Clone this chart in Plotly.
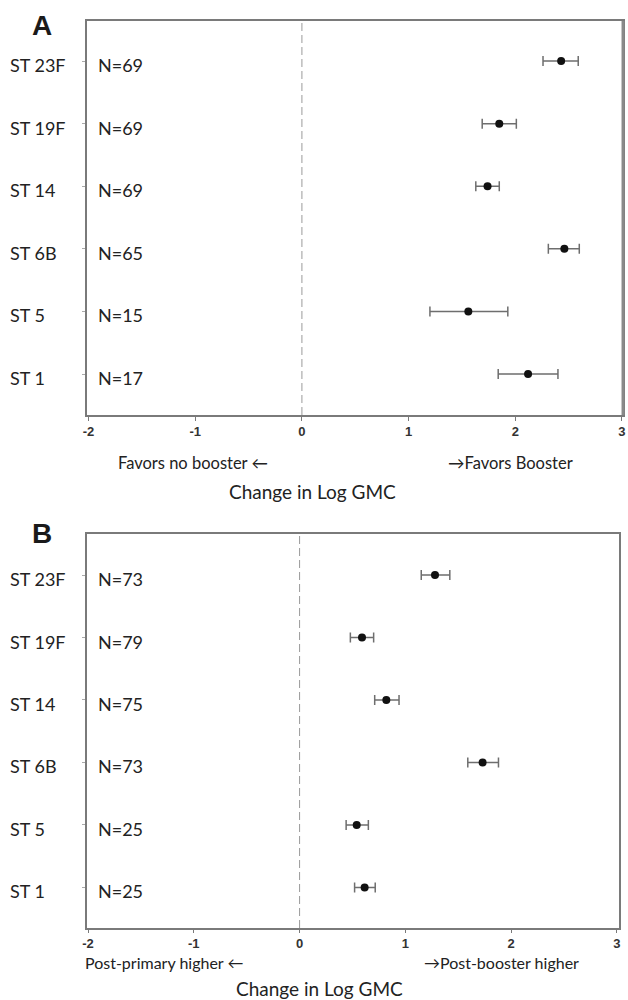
import plotly.graph_objects as go

W, H = 628, 1000

serotypes = ["ST 1", "ST 5", "ST 6B", "ST 14", "ST 19F", "ST 23F"]
x_ticks = [-2, -1, 0, 1, 2, 3]

A_est = [2.12, 1.56, 2.46, 1.74, 1.85, 2.43]
A_lo = [1.84, 1.20, 2.31, 1.63, 1.69, 2.26]
A_hi = [2.40, 1.93, 2.60, 1.85, 2.01, 2.59]
A_n = [17, 15, 65, 69, 69, 69]

B_est = [0.615, 0.54, 1.73, 0.82, 0.59, 1.28]
B_lo = [0.52, 0.44, 1.59, 0.71, 0.48, 1.15]
B_hi = [0.715, 0.65, 1.88, 0.94, 0.70, 1.42]
B_n = [25, 25, 73, 75, 79, 73]

A_left_label, A_right_label = "Favors no booster \u2190", "\u2192Favors Booster"
B_left_label, B_right_label = "Post-primary higher \u2190", "\u2192Post-booster higher"
x_title = "Change in Log GMC"

FONT = "Lato"
AXC = "#7a7a7a"


def px(x):
    return x / W


def py(y):
    return 1 - y / H


fig = go.Figure()
idx = list(range(len(serotypes)))

for est, lo, hi, xa, ya in [(A_est, A_lo, A_hi, "x", "y"), (B_est, B_lo, B_hi, "x2", "y2")]:
    fig.add_trace(go.Scatter(
        x=est, y=idx, xaxis=xa, yaxis=ya, mode="markers",
        marker=dict(color="#111111", size=8),
        error_x=dict(type="data", symmetric=False,
                     array=[h - e for h, e in zip(hi, est)],
                     arrayminus=[e - l for e, l in zip(est, lo)],
                     color="#6e6e6e", thickness=1.5, width=5),
        showlegend=False, hoverinfo="skip"))

xcommon = dict(tickvals=x_ticks, ticktext=[str(t) for t in x_ticks],
               tickfont=dict(family="Liberation Sans", size=13, color="#333", weight="bold"),
               ticklabeloverflow="allow",
               showgrid=False, zeroline=False, showline=True, linecolor=AXC, linewidth=1.5,
               mirror=True, ticks="outside", tickcolor=AXC, ticklen=4, tickwidth=1.2)
ycommon = dict(tickvals=idx, ticktext=["" for _ in idx], showgrid=False, zeroline=False,
               showline=True, linecolor=AXC, linewidth=1.5, mirror=True,
               ticks="outside", tickcolor="#aaaaaa", ticklen=3, tickwidth=1)

fig.update_layout(
    width=W, height=H, margin=dict(l=0, r=0, t=0, b=0),
    paper_bgcolor="white", plot_bgcolor="white",
    xaxis=dict(domain=[px(83), px(626)], range=[-2.015, 3.01], anchor="y", **xcommon),
    yaxis=dict(domain=[py(415), py(21)], range=[-0.655, 5.64], anchor="x", **ycommon),
    xaxis2=dict(domain=[px(83), px(622)], range=[-2.01, 3.02], anchor="y2", **xcommon),
    yaxis2=dict(domain=[py(928), py(534)], range=[-0.65, 5.657], anchor="x2", **ycommon),
)
fig.update_layout(xaxis2_ticklen=3)

for xa, ya in [("x", "y"), ("x2", "y2")]:
    fig.add_shape(type="line", xref=xa, yref=ya + " domain", x0=0, x1=0, y0=0, y1=1,
                  line=dict(color="#9a9a9a", width=1, dash="8px,4px"))

# thicker right border on panel A
fig.add_shape(type="line", xref="paper", yref="paper", x0=px(626), x1=px(626),
              y0=py(415), y1=py(21), line=dict(color="#8a8a8a", width=3))

ann = []
for ns, ya in [(A_n, "y"), (B_n, "y2")]:
    for i, (s, n) in enumerate(zip(serotypes, ns)):
        ann.append(dict(x=px(3), xref="paper", y=i, yref=ya, text=s, showarrow=False,
                        xanchor="left", yanchor="middle", yshift=-4,
                        font=dict(family=FONT, size=18, color="#222")))
        ann.append(dict(x=px(92), xref="paper", y=i, yref=ya, text="N=%d" % n, showarrow=False,
                        xanchor="left", yanchor="middle", yshift=-4,
                        font=dict(family=FONT, size=18, color="#222")))

for txt, x, y in [("A", 37, 25), ("B", 37, 533)]:
    ann.append(dict(x=px(x), y=py(y), xref="paper", yref="paper", text="<b>%s</b>" % txt,
                    showarrow=False, xanchor="center", yanchor="middle",
                    font=dict(family="Liberation Sans", size=28, color="#1a1a1a")))

for txt, x, y, size in [(A_left_label, 190, 463, 16.5), (A_right_label, 512, 463, 16.5),
                        (x_title, 311, 491, 19),
                        (B_left_label, 161, 962, 16), (B_right_label, 503, 962, 16),
                        (x_title, 319, 988, 19)]:
    ann.append(dict(x=px(x), y=py(y), xref="paper", yref="paper", text=txt,
                    showarrow=False, xanchor="center", yanchor="middle",
                    font=dict(family=FONT, size=size, color="#222")))

fig.update_layout(annotations=ann)
fig.write_html("out.html", config={"displayModeBar": False},
               post_script="document.body.style.margin='0px';document.body.style.overflow='hidden';")
